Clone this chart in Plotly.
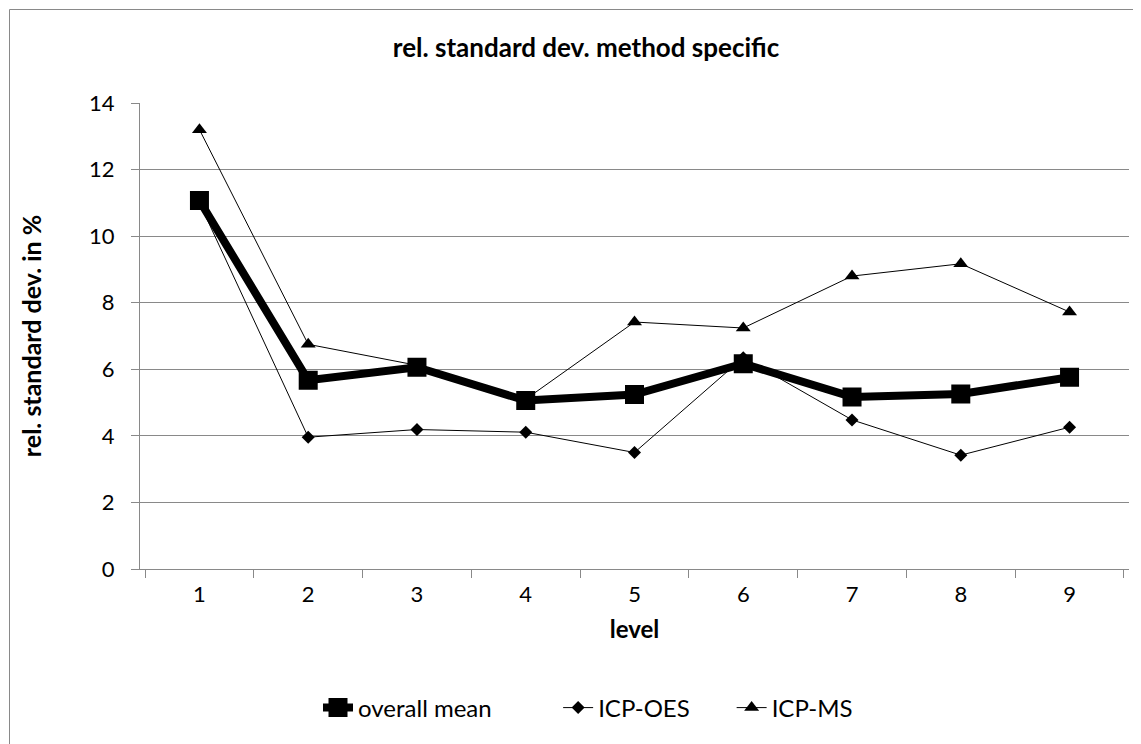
import plotly.graph_objects as go

levels = ["1", "2", "3", "4", "5", "6", "7", "8", "9"]
overall_mean = [11.07, 5.67, 6.06, 5.06, 5.24, 6.17, 5.17, 5.26, 5.76]
icp_oes = [11.0, 3.96, 4.19, 4.11, 3.5, 6.35, 4.48, 3.42, 4.26]
icp_ms = [13.2, 6.75, 6.12, 5.1, 7.42, 7.24, 8.8, 9.17, 7.72]
y_ticks = [0, 2, 4, 6, 8, 10, 12, 14]

FONT = "Lato"
GRAY = "#898989"
L, R, T, B = 132, 1121, 95, 561
PW, PH = R - L, B - T
NB = "\u00a0"

fig = go.Figure()
fig.add_trace(go.Scatter(
    x=levels, y=icp_oes, name="ICP-OES" + NB * 6, mode="lines+markers",
    line=dict(color="black", width=1),
    marker=dict(symbol="diamond", size=10, color="black"),
    legendrank=2,
))
fig.add_trace(go.Scatter(
    x=levels, y=icp_ms, name="ICP-MS", mode="lines+markers",
    line=dict(color="black", width=1),
    marker=dict(symbol="triangle-up", size=13, color="black"),
    legendrank=3,
))
fig.add_trace(go.Scatter(
    x=levels, y=overall_mean, name="overall mean" + NB * 10, mode="lines+markers",
    line=dict(color="black", width=8),
    marker=dict(symbol="square", size=16, color="black",
                line=dict(color="black", width=3)),
    legendrank=1,
))

fig.update_layout(
    width=1141, height=744,
    margin=dict(l=L, r=1141 - R, t=T, b=744 - B),
    paper_bgcolor="white", plot_bgcolor="white",
    font=dict(family=FONT, size=22, color="black"),
    title=dict(text="<b>rel. standard dev. method specific</b>",
               x=(578 - L) / PW, xref="paper", xanchor="center",
               y=1 - 40 / 744, yanchor="middle", yref="container",
               font=dict(family=FONT, size=26, color="black")),
    showlegend=True,
    legend=dict(orientation="h", x=(580 - L) / PW, xanchor="center",
                y=(B - 700) / PH, yanchor="middle",
                font=dict(family=FONT, size=24, color="black"),
                bgcolor="rgba(0,0,0,0)"),
    xaxis=dict(
        type="category", tickson="boundaries",
        showgrid=False, showline=True, linecolor=GRAY, linewidth=1,
        ticks="outside", ticklen=8, tickcolor=GRAY,
        ticklabelstandoff=6,
        title=dict(text="<b>level</b>", standoff=14,
                   font=dict(family=FONT, size=24, color="black")),
        tickfont=dict(family=FONT, size=22, color="black"),
        zeroline=False,
    ),
    yaxis=dict(
        range=[0, 14], tickvals=y_ticks,
        showgrid=True, gridcolor=GRAY, gridwidth=1,
        showline=True, linecolor=GRAY, linewidth=1,
        ticks="outside", ticklen=8, tickcolor=GRAY,
        ticklabelstandoff=12,
        title=dict(text="<b>rel. standard dev. in %</b>", standoff=40,
                   font=dict(family=FONT, size=25, color="black")),
        tickfont=dict(family=FONT, size=22, color="black"),
        zeroline=False,
    ),
    shapes=[dict(type="rect", xref="paper", yref="paper",
                 x0=(1.5 - L) / PW, x1=(1139.5 - L) / PW,
                 y0=(B - 742.5) / PH, y1=(B - 1.5) / PH,
                 line=dict(color=GRAY, width=1), fillcolor="rgba(0,0,0,0)",
                 layer="below")],
)

fig.write_html("out.html")
